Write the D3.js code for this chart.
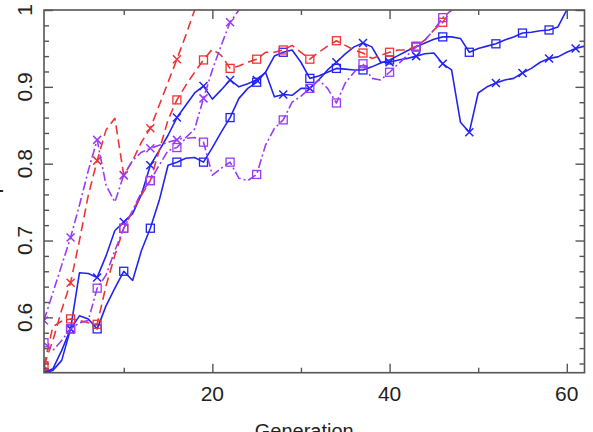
<!DOCTYPE html>
<html>
<head>
<meta charset="utf-8">
<script src="https://cdn.jsdelivr.net/npm/d3@7"></script>
<style>
  body { margin: 0; background: #fff; }
  svg { display: block; }
</style>
</head>
<body>
<svg id="chart" width="593" height="432"></svg>
<script>
// tick values / labels
const xMajorTicks = [20, 40, 60];
const xMinorTicks = [10, 30, 50];
const yMajorTicks = [0.6, 0.7, 0.8, 0.9, 1];
const yTickLabels = ["0.6", "0.7", "0.8", "0.9", "1"];
const xLabel = "Generation";
const yLabel = "F";

// fitness per generation (generation 1, 2, 3, ...)
const blueCross = [0.528, 0.531, 0.544, 0.585, 0.658, 0.657, 0.652, 0.680, 0.713, 0.724,
  0.735, 0.760, 0.798, 0.817, 0.837, 0.860, 0.876, 0.892, 0.901, 0.884,
  0.896, 0.909, 0.900, 0.904, 0.909, 0.919, 0.887, 0.890, 0.889, 0.898,
  0.898, 0.909, 0.922, 0.932, 0.943, 0.952, 0.957, 0.952, 0.932, 0.932,
  0.935, 0.937, 0.940, 0.943, 0.944, 0.930, 0.922, 0.854, 0.841, 0.892,
  0.900, 0.905, 0.909, 0.911, 0.918, 0.924, 0.932, 0.937, 0.939, 0.945,
  0.950, 0.953];

const blueSquare = [0.528, 0.533, 0.557, 0.585, 0.602, 0.598, 0.585, 0.615, 0.638, 0.660,
  0.648, 0.687, 0.716, 0.752, 0.798, 0.802, 0.807, 0.808, 0.802, 0.821,
  0.841, 0.860, 0.885, 0.898, 0.906, 0.919, 0.940, 0.945, 0.948, 0.932,
  0.911, 0.914, 0.919, 0.924, 0.923, 0.922, 0.922, 0.926, 0.931, 0.935,
  0.941, 0.947, 0.952, 0.957, 0.962, 0.965, 0.965, 0.963, 0.945, 0.950,
  0.953, 0.956, 0.961, 0.965, 0.970, 0.971, 0.973, 0.974, 0.978, 1.0];

const redCross = [0.537, 0.570, 0.610, 0.645, 0.700, 0.759, 0.804, 0.844, 0.859, 0.785,
  0.804, 0.828, 0.846, 0.876, 0.906, 0.936, 0.967, 1.0];

const redSquare = [0.537, 0.588, 0.595, 0.598, 0.596, 0.593, 0.591, 0.641, 0.681, 0.716,
  0.739, 0.759, 0.778, 0.817, 0.857, 0.883, 0.902, 0.919, 0.935, 0.949,
  0.941, 0.924, 0.927, 0.932, 0.936, 0.945, 0.945, 0.948, 0.954, 0.945,
  0.936, 0.945, 0.953, 0.960, 0.954, 0.948, 0.944, 0.937, 0.941, 0.945,
  0.948, 0.948, 0.953, 0.961, 0.974, 0.984, 1.0];

const purpleCross = [0.596, 0.632, 0.668, 0.704, 0.746, 0.791, 0.831, 0.772, 0.750, 0.785,
  0.804, 0.815, 0.820, 0.824, 0.828, 0.831, 0.834, 0.845, 0.885, 0.922,
  0.954, 0.984, 1.0];

const purpleSquare = [0.567, 0.557, 0.570, 0.585, 0.593, 0.596, 0.638, 0.655, 0.687, 0.716,
  0.739, 0.763, 0.778, 0.798, 0.817, 0.821, 0.833, 0.834, 0.828, 0.785,
  0.794, 0.802, 0.781, 0.778, 0.786, 0.824, 0.846, 0.857, 0.880, 0.888,
  0.898, 0.909, 0.898, 0.879, 0.905, 0.919, 0.930, 0.911, 0.909, 0.919,
  0.930, 0.941, 0.952, 0.961, 0.974, 0.990, 1.0];

const series = [
  { values: blueCross, color: "#2424f2", dash: null, marker: "cross" },
  { values: blueSquare, color: "#2424f2", dash: null, marker: "square" },
  { values: redCross, color: "#f03434", dash: "9,5", marker: "cross" },
  { values: redSquare, color: "#f03434", dash: "9,5", marker: "square" },
  { values: purpleCross, color: "#9a3cf6", dash: "9,3,2,3", marker: "cross" },
  { values: purpleSquare, color: "#9a3cf6", dash: "9,3,2,3", marker: "square" }
];

function drawChart() {
  const margin = { top: 10, right: 8.5, bottom: 59.3, left: 44 };
  const width = 593 - margin.left - margin.right;
  const height = 432 - margin.top - margin.bottom;

  const svg = d3.select("#chart");
  const g = svg.append("g")
    .attr("transform", "translate(" + margin.left + "," + margin.top + ")");

  const x = d3.scaleLinear().domain([1, 62]).range([0, width]);
  const y = d3.scaleLinear().domain([0.528, 1]).range([height, 0]);

  g.append("clipPath").attr("id", "plotClip")
    .append("rect").attr("width", width).attr("height", height);

  const font = "'Liberation Sans', Arial, sans-serif";
  const axisColor = "#555";

  // inward ticks on all four sides
  const yMinor = d3.range(0.54, 1.0, 0.02).filter(v => !yMajorTicks.some(t => Math.abs(t - v) < 1e-6));
  function tickGroup(axis, transform) {
    const a = g.append("g").attr("transform", transform).call(axis);
    a.select(".domain").remove();
    a.selectAll("line").attr("stroke", axisColor).attr("stroke-width", 1.4);
    a.selectAll("text").remove();
  }
  tickGroup(d3.axisBottom(x).tickValues(xMajorTicks).tickSizeInner(-9).tickSizeOuter(0), "translate(0," + height + ")");
  tickGroup(d3.axisBottom(x).tickValues(xMinorTicks).tickSizeInner(-5).tickSizeOuter(0), "translate(0," + height + ")");
  tickGroup(d3.axisTop(x).tickValues(xMajorTicks).tickSizeInner(-9).tickSizeOuter(0), "translate(0,0)");
  tickGroup(d3.axisTop(x).tickValues(xMinorTicks).tickSizeInner(-5).tickSizeOuter(0), "translate(0,0)");
  tickGroup(d3.axisLeft(y).tickValues(yMajorTicks).tickSizeInner(-9).tickSizeOuter(0), "translate(0,0)");
  tickGroup(d3.axisLeft(y).tickValues(yMinor).tickSizeInner(-5).tickSizeOuter(0), "translate(0,0)");
  tickGroup(d3.axisRight(y).tickValues(yMajorTicks).tickSizeInner(-9).tickSizeOuter(0), "translate(" + width + ",0)");
  tickGroup(d3.axisRight(y).tickValues(yMinor).tickSizeInner(-5).tickSizeOuter(0), "translate(" + width + ",0)");

  // tick labels
  g.selectAll(".xlab")
    .data(xMajorTicks)
    .enter().append("text")
    .attr("x", d => x(d))
    .attr("y", height + 28.5)
    .attr("text-anchor", "middle")
    .style("font-family", font)
    .style("font-size", "21px")
    .attr("fill", "#222")
    .text(d => d);

  g.selectAll(".ylab")
    .data(yMajorTicks)
    .enter().append("text")
    .attr("transform", (d, i) => "translate(-12," + y(d) + ") rotate(-90)")
    .attr("text-anchor", "middle")
    .style("font-family", font)
    .style("font-size", "21px")
    .attr("fill", "#222")
    .text((d, i) => yTickLabels[i]);

  // axis titles (cut by the page edge, as in the original)
  svg.append("text")
    .attr("x", margin.left + width / 2 - 10)
    .attr("y", 438)
    .attr("text-anchor", "middle")
    .style("font-family", font)
    .style("font-size", "20px")
    .attr("fill", "#222")
    .text(xLabel);

  svg.append("text")
    .attr("transform", "translate(3," + (margin.top + height / 2 - 4) + ") rotate(-90)")
    .attr("text-anchor", "middle")
    .style("font-family", font)
    .style("font-size", "21px")
    .attr("fill", "#222")
    .text(yLabel);

  // lines + markers
  const plot = g.append("g").attr("clip-path", "url(#plotClip)");
  const line = d3.line()
    .x((d, i) => x(i + 1))
    .y(d => y(d));

  series.forEach(s => {
    plot.append("path")
      .datum(s.values)
      .attr("d", line)
      .attr("fill", "none")
      .attr("stroke", s.color)
      .attr("stroke-width", 1.6)
      .attr("stroke-dasharray", s.dash)
      .attr("stroke-linejoin", "round");

    const pts = s.values.map((v, i) => ({ gen: i + 1, v: v })).filter(p => (p.gen - 1) % 3 === 0);
    const m = plot.selectAll(null).data(pts).enter().append("g")
      .attr("transform", p => "translate(" + x(p.gen) + "," + y(p.v) + ")");
    if (s.marker === "cross") {
      m.append("path")
        .attr("d", "M-4,-4L4,4M-4,4L4,-4")
        .attr("stroke", s.color)
        .attr("stroke-width", 1.5)
        .attr("fill", "none");
    } else {
      m.append("rect")
        .attr("x", -4).attr("y", -4)
        .attr("width", 8).attr("height", 8)
        .attr("stroke", s.color)
        .attr("stroke-width", 1.3)
        .attr("fill", "none");
    }
  });

  // frame
  g.append("rect")
    .attr("width", width)
    .attr("height", height)
    .attr("fill", "none")
    .attr("stroke", axisColor)
    .attr("stroke-width", 1.6);
}

drawChart();
</script>
</body>
</html>
